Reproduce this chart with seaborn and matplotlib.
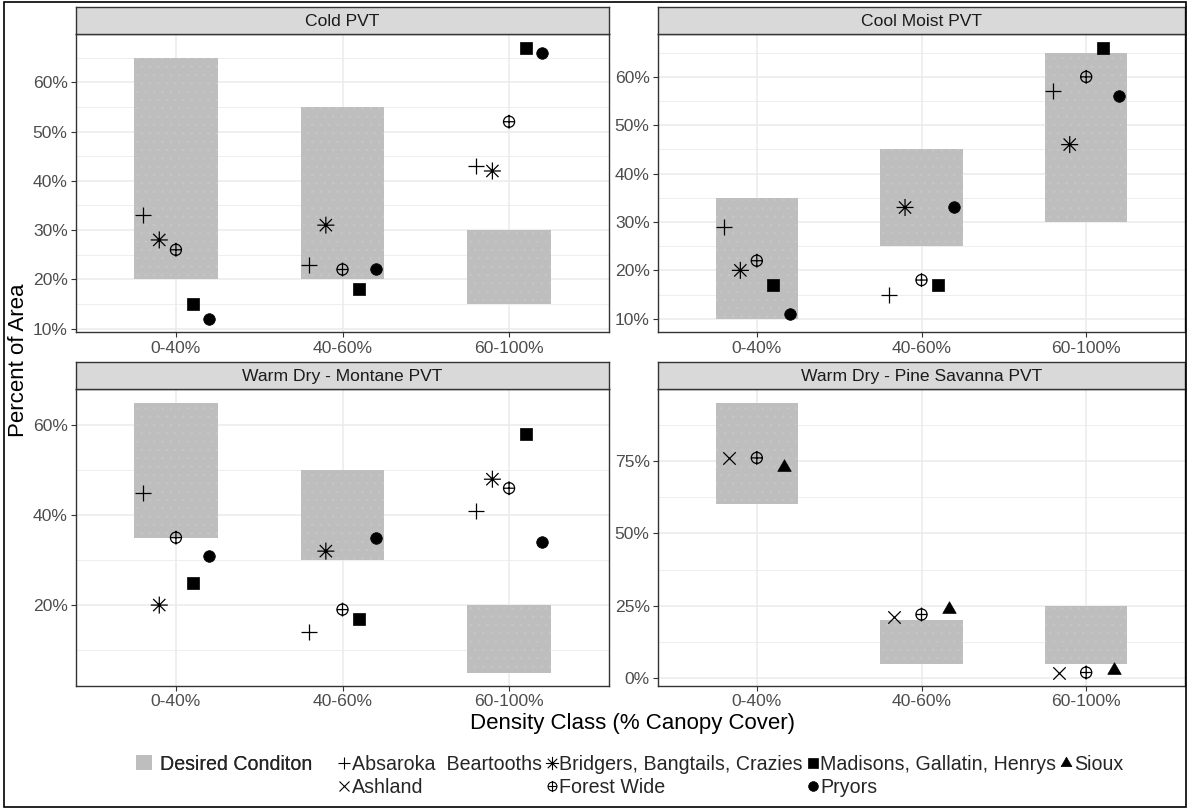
import numpy as np
import pandas as pd
import matplotlib
matplotlib.use("Agg")
import matplotlib.pyplot as plt
from matplotlib.path import Path
from matplotlib.lines import Line2D
from matplotlib.patches import Patch, Rectangle
from matplotlib.ticker import MultipleLocator, FuncFormatter
import seaborn as sns

# ---------------------------------------------------------------- data
density_classes = ["0-40%", "40-60%", "60-100%"]
panel_titles = ["Cold PVT", "Cool Moist PVT",
                "Warm Dry - Montane PVT", "Warm Dry - Pine Savanna PVT"]

# desired condition range (percent of area), one low/high pair per density class
cold_low, cold_high = [20, 20, 15], [65, 55, 30]
cool_low, cool_high = [10, 25, 30], [35, 45, 65]
montane_low, montane_high = [35, 30, 5], [65, 50, 20]
savanna_low, savanna_high = [60, 5, 5], [95, 20, 25]

# existing condition by forest unit
cold_absaroka = [33, 23, 43]
cold_bridgers = [28, 31, 42]
cold_forest = [26, 22, 52]
cold_madisons = [15, 18, 67]
cold_pryors = [12, 22, 66]

cool_absaroka = [29, 15, 57]
cool_bridgers = [20, 33, 46]
cool_forest = [22, 18, 60]
cool_madisons = [17, 17, 66]
cool_pryors = [11, 33, 56]

montane_absaroka = [45, 14, 41]
montane_bridgers = [20, 32, 48]
montane_forest = [35, 19, 46]
montane_madisons = [25, 17, 58]
montane_pryors = [31, 35, 34]

savanna_ashland = [76, 21, 2]
savanna_forest = [76, 22, 2]
savanna_sioux = [73, 24, 3]

ABS = "Absaroka  Beartooths"
ASH = "Ashland"
BRI = "Bridgers, Bangtails, Crazies"
FW = "Forest Wide"
MAD = "Madisons, Gallatin, Henrys"
PRY = "Pryors"
SIO = "Sioux"
legend_order = [ABS, ASH, BRI, FW, MAD, PRY, SIO]

panels = [
    dict(title=panel_titles[0], low=cold_low, high=cold_high, major=10, minor=5,
         series={ABS: cold_absaroka, BRI: cold_bridgers, FW: cold_forest,
                 MAD: cold_madisons, PRY: cold_pryors}),
    dict(title=panel_titles[1], low=cool_low, high=cool_high, major=10, minor=5,
         series={ABS: cool_absaroka, BRI: cool_bridgers, FW: cool_forest,
                 MAD: cool_madisons, PRY: cool_pryors}),
    dict(title=panel_titles[2], low=montane_low, high=montane_high, major=20, minor=10,
         series={ABS: montane_absaroka, BRI: montane_bridgers, FW: montane_forest,
                 MAD: montane_madisons, PRY: montane_pryors}),
    dict(title=panel_titles[3], low=savanna_low, high=savanna_high, major=25, minor=12.5,
         series={ASH: savanna_ashland, FW: savanna_forest, SIO: savanna_sioux}),
]

# ---------------------------------------------------------------- markers
def lines_path(segments):
    verts, codes = [], []
    for (a, b) in segments:
        verts += [a, b]
        codes += [Path.MOVETO, Path.LINETO]
    return Path(verts, codes)

d = 0.36
asterisk = lines_path([((-0.5, 0), (0.5, 0)), ((0, -0.5), (0, 0.5)),
                       ((-d, -d), (d, d)), ((-d, d), (d, -d))])
circle_plus = Path.make_compound_path(
    Path.circle((0, 0), 0.40),
    lines_path([((-0.40, 0), (0.40, 0)), ((0, -0.5), (0, 0.5))]))
triangle = Path([(0, 0.577), (-0.5, -0.289), (0.5, -0.289), (0, 0.577)],
                [Path.MOVETO, Path.LINETO, Path.LINETO, Path.CLOSEPOLY])

# marker, scatter size (pt^2), kind, legend size (pt)
#   kind: "line" = plain line-art marker, "open" = outlined path, "solid" = filled
marker_spec = {
    ABS: ("+", 135, "line", 9.0),
    ASH: ("x", 80, "line", 7.5),
    BRI: (asterisk, 150, "open", 9.5),
    FW: (circle_plus, 100, "open", 8.0),
    MAD: ("s", 74, "solid", 7.0),
    PRY: ("o", 70, "solid", 7.0),
    SIO: (triangle, 125, "solid", 9.0),
}

# ---------------------------------------------------------------- style
sns.set_style("white")
plt.rcParams["font.family"] = ["Liberation Sans", "DejaVu Sans"]
plt.rcParams["hatch.linewidth"] = 0.3

W, H = 1188, 809
fig = plt.figure(figsize=(W / 100, H / 100), dpi=100)
fig.patch.set_facecolor("white")


def fbox(x0, y0, x1, y1):
    return [x0 / W, 1 - y1 / H, (x1 - x0) / W, (y1 - y0) / H]


col_px = [(76, 609), (658, 1185)]
panel_rows = [(34.3, 332.3), (389.3, 686.0)]
strip_rows = [(7.3, 34.3), (362.3, 389.3)]

TICK_COLOR = "#4D4D4D"
LINE_DARK = "#333333"
GRID = "#EBEBEB"
RECT_GREY = "#BEBEBE"
DOT_GREY = "#C9C9C3"

for k, p in enumerate(panels):
    r, c = divmod(k, 2)
    x0, x1 = col_px[c]
    y0, y1 = panel_rows[r]
    ax = fig.add_axes(fbox(x0, y0, x1, y1))

    pos = np.arange(len(density_classes))
    low = np.array(p["low"], dtype=float)
    high = np.array(p["high"], dtype=float)
    # edge is not stroked (width 0); its colour only tints the dot texture
    ax.bar(pos, high - low, bottom=low, width=0.5, facecolor=RECT_GREY,
           edgecolor=DOT_GREY, linewidth=0, hatch="..", zorder=2)

    names = list(p["series"].keys())
    n = len(names)
    rows = []
    for i, name in enumerate(names):
        off = 0.5 * ((i + 0.5) / n - 0.5)
        for j, v in enumerate(p["series"][name]):
            rows.append(dict(forest=name, xpos=j + off, value=v))
    df = pd.DataFrame(rows)

    for name in names:
        m, s, kind, _ = marker_spec[name]
        sub = df[df["forest"] == name]
        if kind == "solid":
            sns.scatterplot(data=sub, x="xpos", y="value", marker=m, s=s,
                            color="black", edgecolor="black", linewidth=0.5,
                            ax=ax, zorder=4, legend=False)
        elif kind == "open":
            sns.scatterplot(data=sub, x="xpos", y="value", marker=m, s=s,
                            color="black", facecolor="none", edgecolor="black",
                            linewidth=0.9, ax=ax, zorder=4, legend=False)
        else:
            sns.scatterplot(data=sub, x="xpos", y="value", marker=m, s=s,
                            color="black", linewidth=0.9,
                            ax=ax, zorder=4, legend=False)

    # free y scale with 5% padding, discrete x scale with 0.6 padding
    allv = np.concatenate([low, high, df["value"].to_numpy(dtype=float)])
    lo, hi = allv.min(), allv.max()
    pad = 0.05 * (hi - lo)
    ax.set_ylim(lo - pad, hi + pad)
    ax.set_xlim(-0.6, len(density_classes) - 0.4)

    ax.set_xticks(pos)
    ax.set_xticklabels(density_classes)
    ax.yaxis.set_major_locator(MultipleLocator(p["major"]))
    ax.yaxis.set_minor_locator(MultipleLocator(p["minor"]))
    ax.yaxis.set_major_formatter(FuncFormatter(lambda v, _: f"{v:.0f}%"))
    ax.set_xlabel("")
    ax.set_ylabel("")

    ax.set_axisbelow(True)
    ax.grid(which="major", color=GRID, linewidth=1.1, zorder=0)
    ax.grid(which="minor", axis="y", color=GRID, linewidth=0.6, zorder=0)
    ax.tick_params(which="major", length=3.5, width=0.8, color=LINE_DARK,
                   labelsize=12.6, labelcolor=TICK_COLOR, pad=2.5,
                   left=True, bottom=True)
    ax.tick_params(which="minor", length=0)
    for sp in ax.spines.values():
        sp.set_color(LINE_DARK)
        sp.set_linewidth(1.0)
        sp.set_zorder(5)

    # facet strip
    sy0, sy1 = strip_rows[r]
    sax = fig.add_axes(fbox(x0, sy0, x1, sy1))
    sax.set_facecolor("#D9D9D9")
    sax.set_xticks([])
    sax.set_yticks([])
    for sp in sax.spines.values():
        sp.set_color(LINE_DARK)
        sp.set_linewidth(1.0)
    sax.text(0.5, 0.47, p["title"], ha="center", va="center",
             fontsize=12.6, color="#1A1A1A", transform=sax.transAxes)

# axis titles
fig.text(19 / W, 1 - 360 / H, "Percent of Area", rotation=90,
         ha="center", va="center", fontsize=16, color="black")
fig.text(632 / W, 1 - 723 / H, "Density Class (% Canopy Cover)",
         ha="center", va="center", fontsize=16, color="black")

# legends
LEG_FS = 14.1
leg1 = fig.legend(handles=[Patch(facecolor=RECT_GREY, edgecolor="none")],
                  labels=["Desired Conditon"], loc="center left",
                  bbox_to_anchor=(136 / W, 1 - 764 / H), frameon=False,
                  borderpad=0, borderaxespad=0, handlelength=0.82,
                  handleheight=0.82, handletextpad=0.43, fontsize=LEG_FS)

handles = []
for name in legend_order:
    m, s, kind, ms = marker_spec[name]
    handles.append(Line2D([], [], linestyle="none", marker=m, markersize=ms,
                          color="black",
                          markerfacecolor="black" if kind == "solid" else "none",
                          markeredgecolor="black",
                          markeredgewidth=0.5 if kind == "solid" else 0.8))
leg2 = fig.legend(handles=handles, labels=legend_order, loc="upper left",
                  bbox_to_anchor=(338 / W, 1 - 755 / H), ncol=4, frameon=False,
                  borderpad=0, borderaxespad=0, handlelength=0.6,
                  handletextpad=0.1, columnspacing=0.2, labelspacing=0.2,
                  fontsize=LEG_FS)
fig.add_artist(leg1)

# outer frame
fig.add_artist(Rectangle((4 / W, 2 / H), (1186 - 4) / W, (807 - 2) / H,
                         transform=fig.transFigure, fill=False,
                         edgecolor="black", linewidth=1.2))

fig.savefig("out.png", dpi=100, facecolor="white")
